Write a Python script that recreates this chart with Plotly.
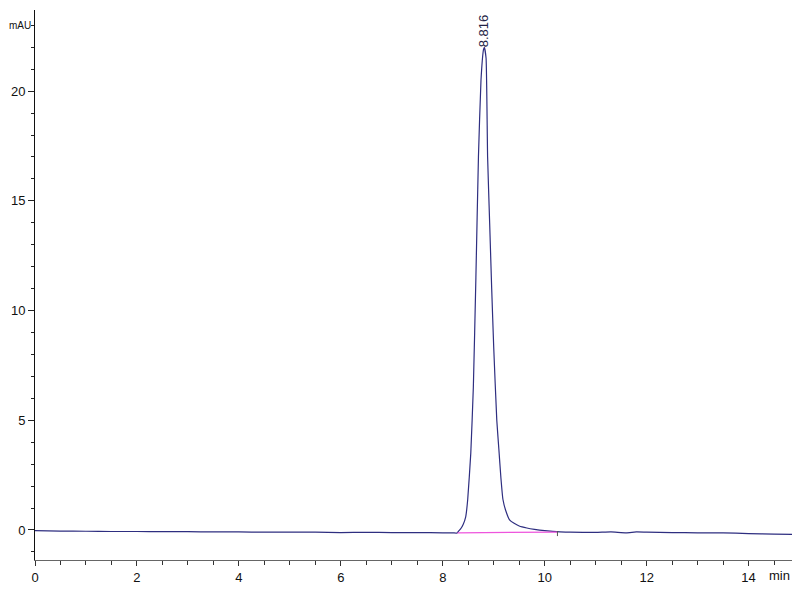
import plotly.graph_objects as go

# Chromatogram signal (time in min, absorbance in mAU)
time_min = [0.0, 0.5, 1.0, 1.5, 2.0, 2.5, 3.0, 3.5, 4.0, 4.5, 5.0, 5.5, 6.0, 6.5, 7.0, 7.5, 8.0, 8.2,
            8.28, 8.31, 8.35, 8.40, 8.45, 8.49, 8.55, 8.60, 8.65, 8.70, 8.75, 8.80, 8.816,
            8.85, 8.88, 8.92, 8.96, 9.00, 9.06, 9.10, 9.14, 9.18, 9.24, 9.31, 9.40, 9.50, 9.65,
            9.80, 10.0, 10.3, 10.5, 11.0, 11.3, 11.6, 11.8, 12.0, 12.5, 13.0, 13.5, 14.0, 14.5, 14.95]
signal_mau = [-0.03, -0.05, -0.06, -0.07, -0.07, -0.08, -0.08, -0.09, -0.09, -0.10, -0.10, -0.10,
              -0.12, -0.11, -0.12, -0.12, -0.13, -0.13,
              -0.14, -0.05, 0.05, 0.25, 0.6, 1.4, 3.5, 6.5, 11.5, 17.0, 20.5, 21.9, 22.0,
              21.5, 17.0, 14.0, 11.0, 8.3, 5.0, 3.7, 2.4, 1.4, 0.85, 0.46, 0.30, 0.18, 0.09,
              0.03, -0.03, -0.09, -0.10, -0.11, -0.09, -0.13, -0.09, -0.10, -0.12, -0.13, -0.13,
              -0.17, -0.19, -0.20]

# Integration baseline of the peak
baseline_t = [8.29, 10.25]
baseline_v = [-0.13, -0.10]
peak_end_t = [10.25, 10.25]
peak_end_v = [-0.05, -0.28]

peak_rt = 8.816
peak_height = 21.95
peak_label = "8.816"

y_major = [0, 5, 10, 15, 20]
x_major = [0, 2, 4, 6, 8, 10, 12, 14]

font_family = "Liberation Sans Narrow, Arial Narrow, Liberation Sans, Arial, sans-serif"

fig = go.Figure()
fig.add_trace(go.Scatter(x=time_min, y=signal_mau, mode="lines",
                         line=dict(color="#2e2e80", width=1.2, shape="spline", smoothing=0.4),
                         hoverinfo="skip", showlegend=False))
fig.add_trace(go.Scatter(x=baseline_t, y=baseline_v, mode="lines",
                         line=dict(color="#ee55dd", width=1.3), showlegend=False))
fig.add_trace(go.Scatter(x=peak_end_t, y=peak_end_v, mode="lines",
                         line=dict(color="#555555", width=1), showlegend=False))

fig.add_annotation(x=peak_rt, y=peak_height, text=peak_label, textangle=-90,
                   showarrow=False, xanchor="center", yanchor="bottom", yshift=-1,
                   font=dict(family=font_family, size=13, color="#222244"))
fig.add_annotation(xref="paper", x=0, y=23, text="mAU", showarrow=False,
                   xanchor="right", xshift=-3, yanchor="middle", borderpad=0,
                   font=dict(family=font_family, size=10, color="#111111"))
fig.add_annotation(x=14.6, yref="paper", y=0, text="min", showarrow=False,
                   xanchor="center", yanchor="top", yshift=-6,
                   font=dict(family=font_family, size=13, color="#111111"))

# The page body adds an 8px offset, so the figure is smaller and margins compensate
fig.update_layout(
    width=792, height=584,
    margin=dict(l=27, r=3, t=2, b=32, autoexpand=False),
    paper_bgcolor="white", plot_bgcolor="white",
    font=dict(family=font_family, size=13, color="#111111"),
    showlegend=False,
)
fig.update_xaxes(range=[0, 14.95], tickvals=x_major, ticks="outside", ticklen=5,
                 tickcolor="#333333", showline=True, linecolor="#666666", linewidth=1,
                 showgrid=False, zeroline=False, automargin=False,
                 minor=dict(dtick=0.5, tick0=0, ticks="outside", ticklen=4, tickcolor="#333333", showgrid=False))
fig.update_yaxes(range=[-1.37, 23.7], tickvals=y_major, ticks="outside", ticklen=6,
                 tickcolor="#222222", showline=True, linecolor="#111111", linewidth=1,
                 showgrid=False, zeroline=False, automargin=False,
                 minor=dict(dtick=1, tick0=0, ticks="outside", ticklen=3, tickcolor="#222222", showgrid=False))

fig.write_html("out.html")
